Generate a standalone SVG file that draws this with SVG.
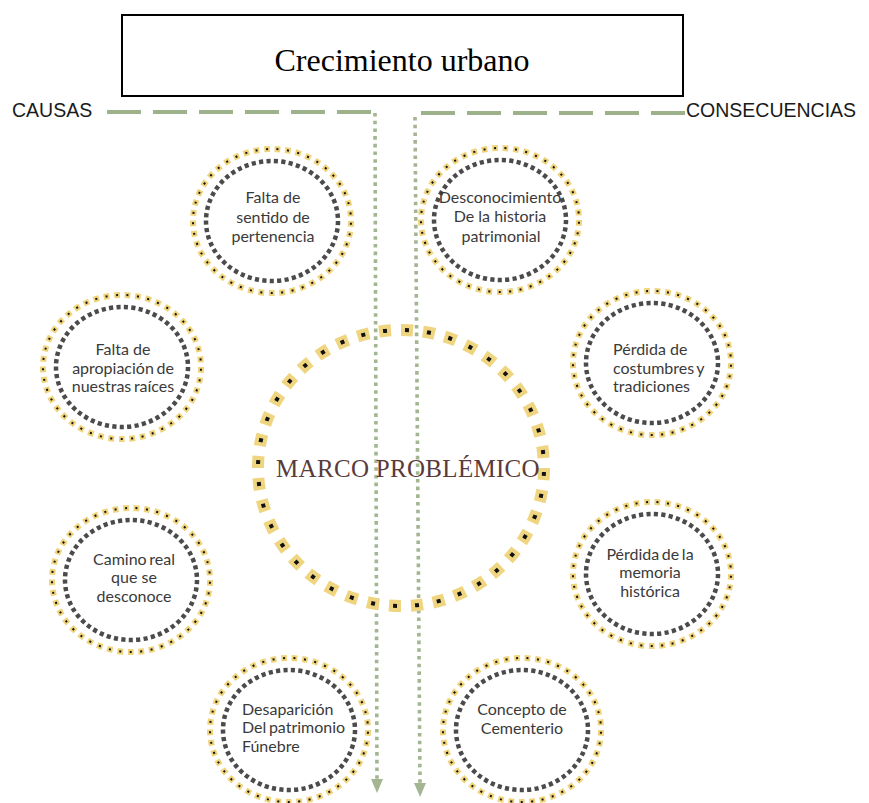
<svg xmlns="http://www.w3.org/2000/svg" xmlns:xlink="http://www.w3.org/1999/xlink" width="869" height="803" viewBox="0 0 869 803">
<style>
.lbl{font-family:Lato,"Liberation Sans",sans-serif;font-size:16px;fill:#3a3a3a}
.mid{text-anchor:middle}
.tight{word-spacing:-1.5px}
.side{font-family:"Liberation Sans",Arial,sans-serif;font-size:19.5px;fill:#1a1a1a}
.hdash{fill:none;stroke:#9db28a;stroke-width:4;stroke-dasharray:34 12}
.vdot{fill:none;stroke:#a3b591;stroke-width:3.6;stroke-dasharray:3.6 4.1}
.oy{fill:none;stroke:#f0d47c;stroke-width:6;stroke-dasharray:0.55 0.45}
.ob{fill:none;stroke:#111;stroke-width:2;stroke-dasharray:0.19 0.81;stroke-dashoffset:-0.18}
.ig{fill:none;stroke:#4b4b4b;stroke-width:4.5;stroke-dasharray:0.56 0.44}
</style>
<defs>
<marker id="arr" viewBox="0 0 14 12" refX="1" refY="6" markerWidth="14" markerHeight="12" markerUnits="userSpaceOnUse" orient="auto">
<path d="M0,0 L14,6 L0,12 z" fill="#a3b591"/>
</marker>
<g id="ring">
<ellipse cx="0" cy="0" rx="79" ry="72" pathLength="45" class="oy"/>
<ellipse cx="0" cy="0" rx="79" ry="72" pathLength="45" class="ob"/>
<ellipse cx="0" cy="0" rx="66" ry="60" pathLength="53" class="ig"/>
</g>
</defs>
<rect width="869" height="803" fill="#ffffff"/>

<g id="title">
<rect x="122" y="15" width="561" height="81" fill="#fff" stroke="#000" stroke-width="2"/>
<text x="402" y="71" text-anchor="middle" font-family="'Liberation Serif','Times New Roman',serif" font-size="32" fill="#000">Crecimiento urbano</text>
</g>

<g id="labels">
<text x="12" y="117" class="side">CAUSAS</text>
<text x="686" y="117" class="side">CONSECUENCIAS</text>
</g>

<g id="connectors">
<line x1="107" y1="112" x2="373" y2="112" class="hdash"/>
<line x1="421" y1="113" x2="686" y2="113" class="hdash"/>
<line x1="375" y1="113" x2="377" y2="780" class="vdot" marker-end="url(#arr)"/>
<line x1="415" y1="117" x2="420" y2="784" class="vdot" marker-end="url(#arr)"/>
</g>

<g id="marco">
<ellipse cx="401" cy="468" rx="143" ry="138" pathLength="40" fill="none" stroke="#f0d580" stroke-width="12" stroke-dasharray="0.545 0.455"/>
<ellipse cx="401" cy="468" rx="143" ry="138" pathLength="40" fill="none" stroke="#111" stroke-width="4" stroke-dasharray="0.18 0.82" stroke-dashoffset="-0.1825"/>
<text x="408" y="477" text-anchor="middle" font-family="'Liberation Serif','Times New Roman',serif" font-size="25" letter-spacing="0.3" fill="#5a3a3a">MARCO PROBLÉMICO</text>
</g>

<g id="c1">
<use xlink:href="#ring" x="272" y="221"/>
<text class="lbl mid"><tspan x="273" y="203">Falta de</tspan><tspan x="273" y="223">sentido de</tspan><tspan x="273" y="242">pertenencia</tspan></text>
</g>

<g id="c2">
<use xlink:href="#ring" x="500" y="220"/>
<text class="lbl mid"><tspan x="500" y="203">Desconocimiento</tspan><tspan x="500" y="222">De la historia</tspan><tspan x="501" y="242">patrimonial</tspan></text>
</g>

<g id="c3">
<use xlink:href="#ring" x="122" y="367"/>
<text class="lbl mid"><tspan x="123" y="355">Falta de</tspan><tspan x="123" y="374" class="tight">apropiación de</tspan><tspan x="123" y="392" class="tight">nuestras raíces</tspan></text>
</g>

<g id="c4">
<use xlink:href="#ring" x="652" y="363"/>
<text class="lbl"><tspan x="613" y="355">Pérdida de</tspan><tspan x="613" y="374" class="tight">costumbres y</tspan><tspan x="613" y="392">tradiciones</tspan></text>
</g>

<g id="c5">
<use xlink:href="#ring" x="131" y="580"/>
<text class="lbl mid"><tspan x="134" y="565" class="tight">Camino real</tspan><tspan x="134" y="583">que se</tspan><tspan x="134" y="602">desconoce</tspan></text>
</g>

<g id="c6">
<use xlink:href="#ring" x="652" y="574"/>
<text class="lbl mid"><tspan x="650" y="560" class="tight">Pérdida de la</tspan><tspan x="650" y="578">memoria</tspan><tspan x="650" y="597">histórica</tspan></text>
</g>

<g id="c7">
<use xlink:href="#ring" x="289" y="730"/>
<text class="lbl"><tspan x="242" y="715">Desaparición</tspan><tspan x="242" y="733" class="tight">Del patrimonio</tspan><tspan x="242" y="752">Fúnebre</tspan></text>
</g>

<g id="c8">
<use xlink:href="#ring" x="522" y="730"/>
<text class="lbl mid"><tspan x="522" y="715">Concepto de</tspan><tspan x="522" y="734">Cementerio</tspan></text>
</g>
</svg>
